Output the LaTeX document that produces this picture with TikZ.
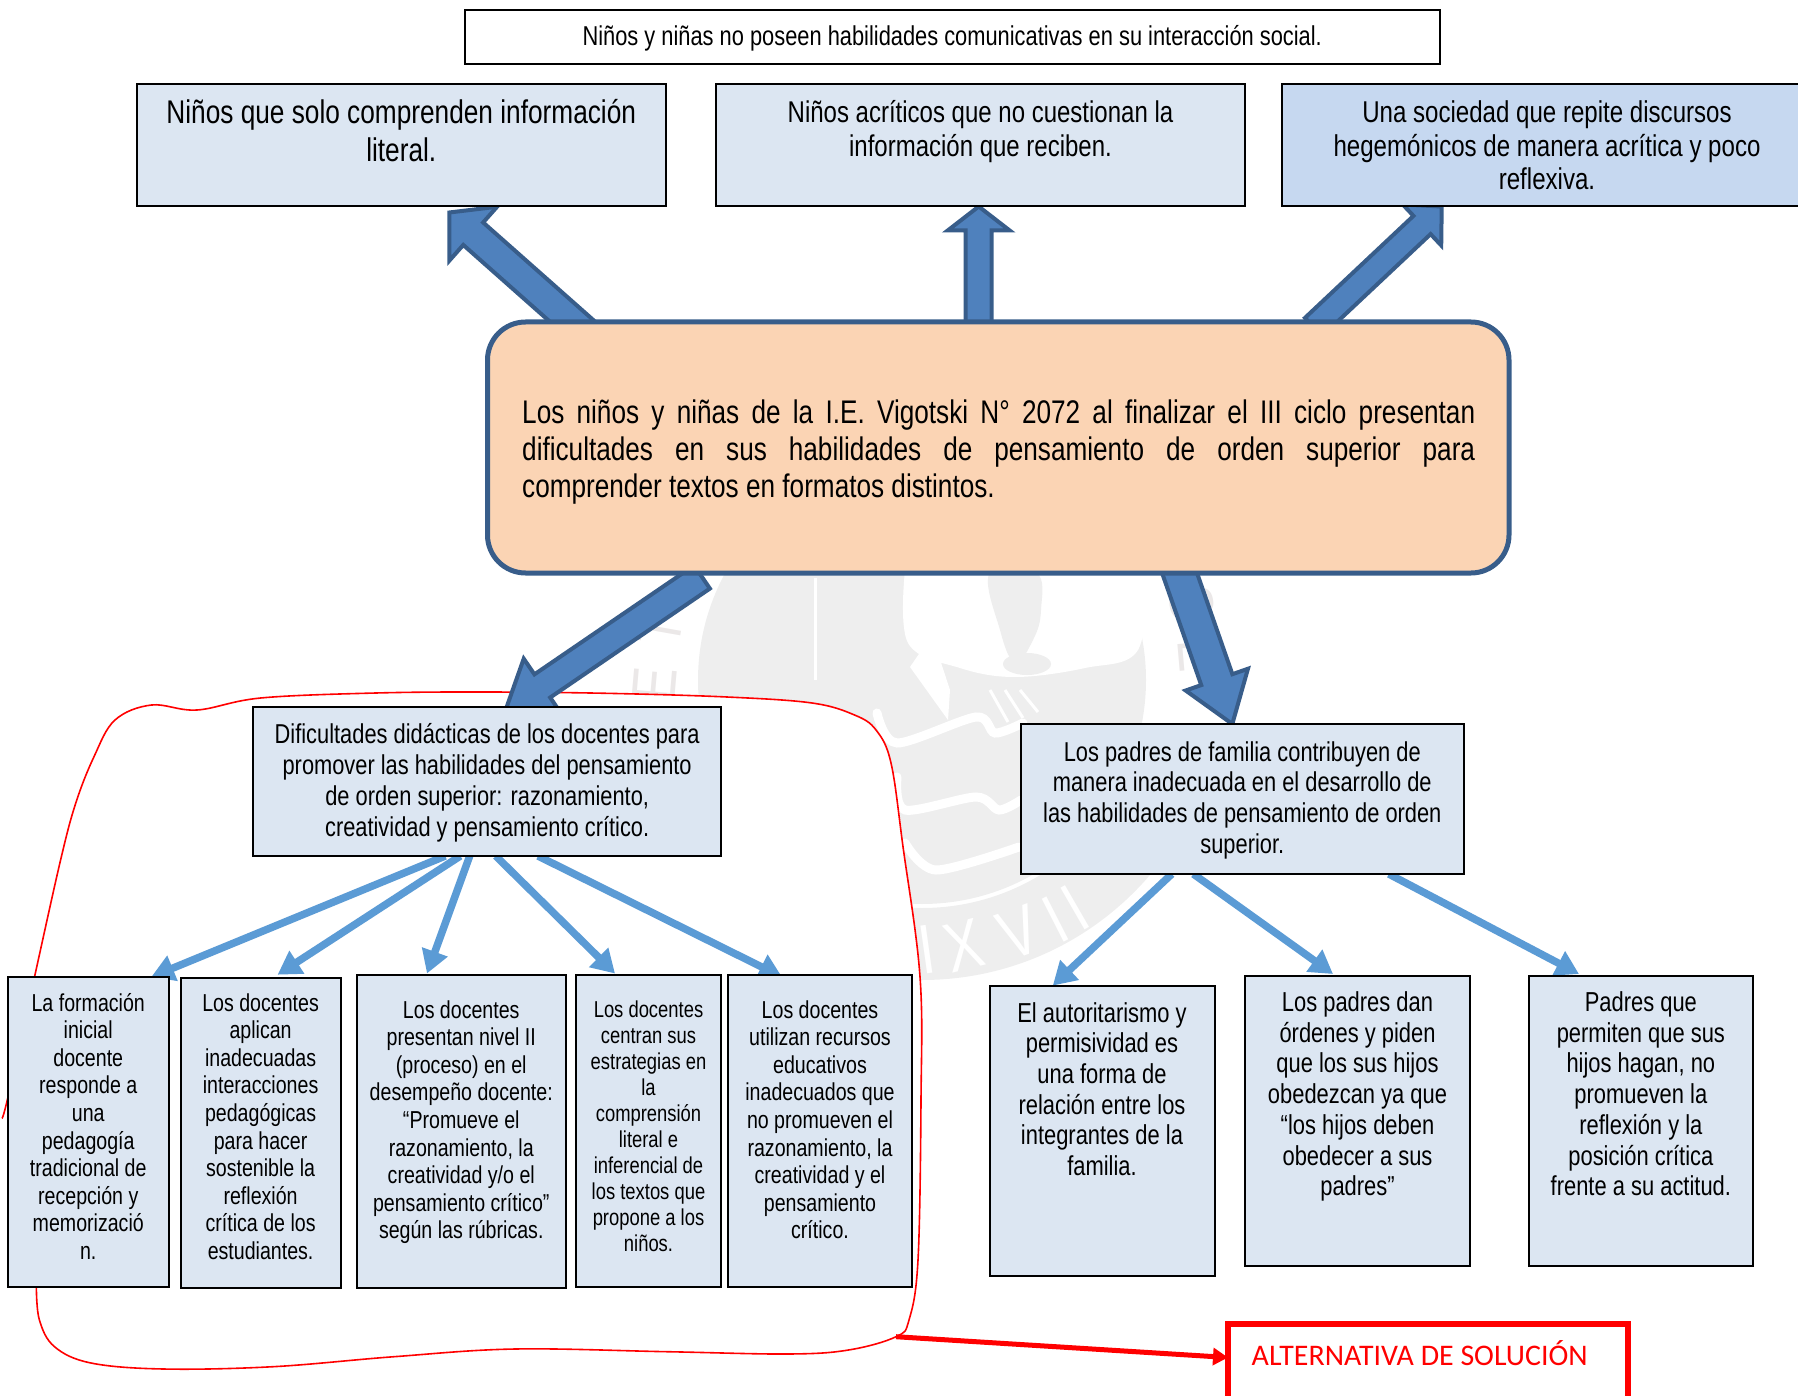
\documentclass[tikz,border=0pt]{standalone}
\usepackage{fontspec}
\setmainfont[FakeStretch=0.8]{Liberation Sans}
\newfontfamily\calib{Carlito}
\usetikzlibrary{arrows.meta,calc}
\pgfdeclarelayer{under}
\pgfsetlayers{under,main}
\definecolor{boxblue}{HTML}{DCE6F2}
\definecolor{boxdeep}{HTML}{C6D8F0}
\definecolor{peach}{HTML}{FBD4B4}
\definecolor{navy}{HTML}{385D8A}
\definecolor{bigblue}{HTML}{4F81BD}
\definecolor{thinblue}{HTML}{5B9BD5}
\definecolor{seal}{HTML}{EEEEEE}
\definecolor{sealtext}{HTML}{EBE8E8}
\tikzset{
  plainbox/.style={draw=black,line width=2pt,fill=boxblue,inner sep=0pt,outer sep=0pt},
  deepbox/.style={plainbox,fill=boxdeep},
  whitebox/.style={plainbox,fill=white},
  corebox/.style={draw=navy,line width=5pt,fill=peach,rounded corners=38pt,inner sep=0pt,outer sep=0pt},
  solbox/.style={draw=red,line width=5.5pt,fill=white,inner sep=0pt,outer sep=0pt},
  bigarrowstyle/.style={draw=navy,line width=4pt,fill=bigblue,line join=miter},
  thinarrow/.style={draw=thinblue,line width=7.5pt,-{Triangle[length=23pt,width=26pt]}},
  redarrow/.style={draw=red,line width=5pt,-{Triangle[length=15pt,width=17pt]}},
  handline/.style={draw=red,line width=1.6pt},
  ribbon/.style={draw=white,line width=9pt,line cap=round}
}
% box from corners, font size, leading, offset of the first baseline, text
\newcommand\boxn[9][plainbox]{%
  \def\bxopt{#1}\def\bxname{#2}%
  \pgfmathsetmacro\bxw{#5-#3}\pgfmathsetmacro\bxh{#6-#4}%
  \pgfmathsetmacro\bxcx{(#3+#5)/2}\pgfmathsetmacro\bxcy{(#4+#6)/2}%
  \def\bxfs{#7}\def\bxld{#8}\pgfmathsetmacro\bxoff{#9-#4}%
  \boxnB}
\newcommand\boxnB[1]{%
  \node[\bxopt] (\bxname) at (\bxcx,\bxcy) {\parbox[c][\bxh pt][t]{\bxw pt}{\fontsize{\bxfs pt}{\bxld pt}\selectfont\centering\rule{0pt}{\bxoff pt}#1}};}
\newcommand\bigarrow[5]{%
  \coordinate (h) at ($(#2)!#5pt!(#1)$);
  \draw[bigarrowstyle] ($(#1)!#3pt!90:(#2)$) -- ($(h)!#3pt!90:(#2)$) -- ($(h)!#4pt!90:(#2)$) -- (#2)
    -- ($(h)!#4pt!-90:(#2)$) -- ($(h)!#3pt!-90:(#2)$) -- ($(#1)!#3pt!-90:(#2)$) -- cycle;}
\begin{document}
\begin{tikzpicture}[x=1pt,y=-1pt]
\useasboundingbox (0,0) rectangle (1798,1396);

% top row
\boxn[whitebox]{top}{464.5}{10.5}{1440}{64}{27.3}{29}{46}{Niños y niñas no poseen habilidades comunicativas en su interacción social.}
\boxn{effa}{136.5}{84}{666}{206.5}{32.8}{37.8}{123.5}{Niños que solo comprenden información\\literal.}
\boxn{effb}{716}{84}{1245}{206.5}{30}{33.5}{123}{Niños acríticos que no cuestionan la\\información que reciben.}
\boxn[deepbox]{effc}{1282}{84}{1812}{206.5}{30.1}{33.5}{123}{Una sociedad que repite discursos\\hegemónicos de manera acrítica y poco\\reflexiva.}

% central problem
\node[corebox,minimum width=1021.5pt,minimum height=251pt] (core) at (998.25,447.5) {};
\node[inner sep=0pt,align=left,anchor=north west,font=\fontsize{32.7}{36.7}\selectfont] (coretext) at (522,400) {%
  \makebox[953pt][s]{Los niños y niñas de la I.E. Vigotski N° 2072 al finalizar el III ciclo presentan}\\
  \makebox[953pt][s]{dificultades en sus habilidades de pensamiento de orden superior para}\\
  comprender textos en formatos distintos.};

% causes
\boxn{doc}{253.3}{707.3}{721}{856}{27.3}{30.9}{743.5}{Dificultades didácticas de los docentes para\\promover las habilidades del pensamiento\\de orden superior: razonamiento,\\creatividad y pensamiento crítico.}
\boxn{pad}{1020.8}{724}{1463.8}{874}{27.3}{30.7}{761}{Los padres de familia contribuyen de\\manera inadecuada en el desarrollo de\\las habilidades de pensamiento de orden\\superior.}

% left row
\boxn{la}{8}{977}{168.5}{1286.5}{24.5}{27.6}{1011}{La formación\\inicial\\docente\\responde a\\una\\pedagogía\\tradicional de\\recepción y\\memorizació\\n.}
\boxn{lb}{180.6}{977.7}{340.6}{1288}{24.5}{27.6}{1011}{Los docentes\\aplican\\inadecuadas\\interacciones\\pedagógicas\\para hacer\\sostenible la\\reflexión\\crítica de los\\estudiantes.}
\boxn{lc}{357}{975}{565.5}{1288}{24.5}{27.6}{1018}{Los docentes\\presentan nivel II\\(proceso) en el\\desempeño docente:\\“Promueve el\\razonamiento, la\\creatividad y/o el\\pensamiento crítico”\\según las rúbricas.}
\boxn{ld}{576.4}{975}{720.6}{1287}{23}{26}{1017.5}{Los docentes\\centran sus\\estrategias en\\la\\comprensión\\literal e\\inferencial de\\los textos que\\propone a los\\niños.}
\boxn{le}{728}{975}{912}{1287}{24.5}{27.6}{1018}{Los docentes\\utilizan recursos\\educativos\\inadecuados que\\no promueven el\\razonamiento, la\\creatividad y el\\pensamiento\\crítico.}

% right row
\boxn{ra}{989.5}{985.6}{1214.5}{1275.5}{27.4}{30.7}{1022}{El autoritarismo y\\permisividad es\\una forma de\\relación entre los\\integrantes de la\\familia.}
\boxn{rb}{1245.3}{975.5}{1469.7}{1266}{27.4}{30.7}{1011.5}{Los padres dan\\órdenes y piden\\que los sus hijos\\obedezcan ya que\\“los hijos deben\\obedecer a sus\\padres”}
\boxn{rc}{1528.7}{975.5}{1753}{1266}{27.4}{30.7}{1011.5}{Padres que\\permiten que sus\\hijos hagan, no\\promueven la\\reflexión y la\\posición crítica\\frente a su actitud.}

% solution box
\node[solbox,minimum width=400pt,minimum height=90pt,anchor=north west] (sol) at (1228,1324) {};
\node[inner sep=0pt,anchor=base west,font=\calib\fontsize{29.9}{32}\selectfont,text=red] (soltext) at (1251.5,1365) {ALTERNATIVA DE SOLUCIÓN};

\begin{pgfonlayer}{under}
  % faded seal behind the diagram
  \fill[seal] (922,680) circle (224);
  \begin{scope}
    \clip (640,875) rectangle (1200,1000);
    \fill[seal,even odd rule] (922,680) circle (300) (922,680) circle (228);
  \end{scope}
  \fill[white] plot[smooth,tension=0.6] coordinates {(905,570) (908,643) (960,668) (1015,677) (1085,668) (1138,650) (1146,570)} -- cycle;
  \fill[seal] plot[smooth cycle,tension=0.7] coordinates {(990,572) (1000,630) (1015,662) (1033,640) (1041,610) (1036,572)};
  \fill[seal] (1027,664) ellipse (24 and 11);
  \draw[white,line width=3pt] (815,578) -- (815,680);
  \fill[white] (910,667) -- (932,635) -- (950,690) -- (948,720) -- cycle;
  \draw[white,line width=3pt] (990,690) -- (1008,722);
  \draw[white,line width=3pt] (1005,690) -- (1023,718);
  \draw[white,line width=3pt] (1020,690) -- (1038,712);
  \draw[ribbon] plot[smooth] coordinates {(877,713) (897,743) (976,717) (995,733) (1023,723)};
  \draw[ribbon] plot[smooth] coordinates {(897,777) (905,810) (976,797) (999,810) (1021,800)};
  \draw[ribbon] plot[smooth] coordinates {(905,843) (936,870) (1019,847)};
  \foreach \gx/\gy/\gl/\gr in {927/950/I/8,964/946/X/14,1019/932/V/20,1055/920/I/27,1075/908/I/30}{
    \node[text=white,inner sep=0pt,font=\fontsize{70}{70}\selectfont,rotate=\gr] at (\gx,\gy) {\gl};}
  \foreach \gx/\gy/\gl/\gr in {655/684/E/85,660/630/T/80,1192/603/S/-78,1200/655/E/-85}{
    \node[text=sealtext,inner sep=0pt,font=\fontsize{62}{62}\selectfont,rotate=\gr] at (\gx,\gy) {\gl};}

  % white interior of the hand-drawn loop
  \fill[white] plot[smooth cycle,tension=0.6] coordinates {(34.5,977) (60.6,860) (75.8,803) (94,756.7) (115,720) (151.5,705) (197,710) (260.6,698) (375.8,693) (485,692) (606,693.3) (727,697) (812,703) (854.5,715) (876,730) (891,763) (903,846.7) (920,976.7) (921,1100) (918,1260) (909,1320) (896,1336.7) (848.5,1350) (788,1354) (667,1351.7) (515,1349) (394,1356.7) (273,1366.7) (163.6,1369) (91,1363) (54.5,1346.7) (39.4,1320) (36.4,1288)};
  \draw[handline] plot[smooth,tension=0.6] coordinates {(2,1118) (8,1097) (34.5,977) (60.6,860) (75.8,803) (94,756.7) (115,720) (151.5,705) (197,710) (260.6,698) (375.8,693) (485,692) (606,693.3) (727,697) (812,703) (854.5,715) (876,730) (891,763) (903,846.7) (920,976.7) (921,1100) (918,1260) (909,1320) (896,1336.7) (848.5,1350) (788,1354) (667,1351.7) (515,1349) (394,1356.7) (273,1366.7) (163.6,1369) (91,1363) (54.5,1346.7) (39.4,1320) (36.4,1288)};
  \coordinate (loopend) at (896,1336.7);
  \draw[redarrow] (loopend) -- ([yshift=-33.5pt]sol.north west);

  % thick arrows from the central box
  \coordinate (ta) at ([xshift=112.5pt,yshift=-24pt]core.north west);
  \coordinate (tb) at ([xshift=491.2pt,yshift=-20pt]core.north west);
  \coordinate (tc) at ([xshift=826pt,yshift=-5pt]core.north west);
  \coordinate (td) at ([xshift=214.5pt,yshift=-4pt]core.south west);
  \coordinate (te) at ([xshift=687.5pt,yshift=13pt]core.south west);
  \bigarrow{ta}{[xshift=48pt,yshift=-6pt]effa.south}{15}{36}{32}
  \bigarrow{tb}{[xshift=-1.8pt]effb.south}{13}{31}{24}
  \bigarrow{tc}{[xshift=-105.3pt]effc.south}{12.5}{28}{27}
  \bigarrow{td}{[xshift=18pt,yshift=-4pt]doc.north}{14}{33}{45}
  \bigarrow{te}{[xshift=-10pt]pad.north}{16.5}{33}{47}

  % thin arrows to the lower boxes
  \draw[thinarrow] ([xshift=192pt]doc.south west) -- ([xshift=63pt]la.north);
  \draw[thinarrow] ([xshift=207pt]doc.south west) -- ([xshift=17pt,yshift=3pt]lb.north);
  \draw[thinarrow] ([xshift=216.4pt]doc.south west) -- ([xshift=-34.25pt,yshift=1.5pt]lc.north);
  \draw[thinarrow] ([xshift=242.5pt]doc.south west) -- ([xshift=-33.5pt,yshift=1.5pt]ld.north);
  \draw[thinarrow] ([xshift=284.7pt]doc.south west) -- ([xshift=-38pt,yshift=-2pt]le.north);
  \draw[thinarrow] ([xshift=151pt]pad.south west) -- ([xshift=-49.2pt]ra.north);
  \draw[thinarrow] ([xshift=172.6pt]pad.south west) -- ([xshift=-24.5pt,yshift=1.5pt]rb.north);
  \draw[thinarrow] ([xshift=368pt]pad.south west) -- ([xshift=-61.85pt,yshift=1.5pt]rc.north);
\end{pgfonlayer}
\end{tikzpicture}
\end{document}
